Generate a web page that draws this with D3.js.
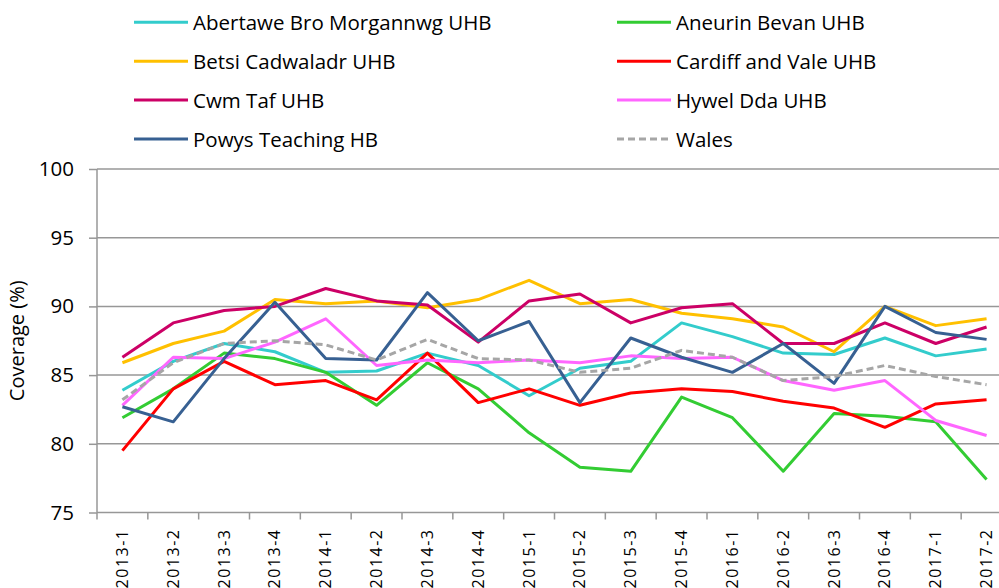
<!DOCTYPE html>
<html>
<head>
<meta charset="utf-8">
<script src="https://cdn.jsdelivr.net/npm/d3@7"></script>
<style>
  body { margin: 0; background: #fff; }
  svg { display: block; }
  text { font-family: "Open Sans", "Liberation Sans", Arial, sans-serif; }
</style>
</head>
<body>
<svg id="chart" width="999" height="588"></svg>
<script>
const categories = ['2013-1','2013-2','2013-3','2013-4','2014-1','2014-2','2014-3','2014-4',
  '2015-1','2015-2','2015-3','2015-4','2016-1','2016-2','2016-3','2016-4','2017-1','2017-2'];

const abertawe = [83.9, 86.0, 87.3, 86.7, 85.2, 85.3, 86.6, 85.7, 83.5, 85.5, 86.0, 88.8, 87.8, 86.6, 86.5, 87.7, 86.4, 86.9];
const aneurin  = [81.9, 84.0, 86.6, 86.2, 85.2, 82.8, 85.9, 84.0, 80.8, 78.3, 78.0, 83.4, 81.9, 78.0, 82.2, 82.0, 81.6, 77.4];
const betsi    = [85.9, 87.3, 88.2, 90.5, 90.2, 90.4, 89.9, 90.5, 91.9, 90.2, 90.5, 89.5, 89.1, 88.5, 86.7, 90.0, 88.6, 89.1];
const cardiff  = [79.5, 84.0, 86.0, 84.3, 84.6, 83.2, 86.6, 83.0, 84.0, 82.8, 83.7, 84.0, 83.8, 83.1, 82.6, 81.2, 82.9, 83.2];
const cwmTaf   = [86.3, 88.8, 89.7, 90.0, 91.3, 90.4, 90.1, 87.4, 90.4, 90.9, 88.8, 89.9, 90.2, 87.3, 87.3, 88.8, 87.3, 88.5];
const hywelDda = [82.8, 86.3, 86.2, 87.4, 89.1, 85.7, 86.1, 85.9, 86.1, 85.9, 86.4, 86.2, 86.3, 84.6, 83.9, 84.6, 81.7, 80.6];
const powys    = [82.7, 81.6, 86.2, 90.3, 86.2, 86.1, 91.0, 87.5, 88.9, 83.0, 87.7, 86.3, 85.2, 87.3, 84.4, 90.0, 88.1, 87.6];
const wales    = [83.2, 85.9, 87.3, 87.5, 87.2, 86.1, 87.6, 86.2, 86.1, 85.2, 85.5, 86.8, 86.3, 84.6, 84.9, 85.7, 84.9, 84.3];

const yTicks = [75, 80, 85, 90, 95, 100];

const series = [
  { name: 'Abertawe Bro Morgannwg UHB', values: abertawe, color: '#33CCCC' },
  { name: 'Aneurin Bevan UHB', values: aneurin, color: '#33CC33' },
  { name: 'Betsi Cadwaladr UHB', values: betsi, color: '#FFC000' },
  { name: 'Cardiff and Vale UHB', values: cardiff, color: '#FF0000' },
  { name: 'Cwm Taf UHB', values: cwmTaf, color: '#CC0066' },
  { name: 'Hywel Dda UHB', values: hywelDda, color: '#FF66FF' },
  { name: 'Powys Teaching HB', values: powys, color: '#376092' },
  { name: 'Wales', values: wales, color: '#A6A6A6', dash: '7,4' }
];

const margin = { top: 169, left: 97 };
const width = 915;
const height = 343.5;

const svg = d3.select('#chart');
const g = svg.append('g').attr('transform', `translate(${margin.left}, ${margin.top})`);

const xScale = d3.scaleBand().domain(categories).range([0, width]);
const yScale = d3.scaleLinear().domain([75, 100]).range([height, 0]);

// gridlines
g.selectAll('.grid')
  .data(yTicks.slice(1))
  .enter()
  .append('line')
  .attr('x1', 0).attr('x2', width)
  .attr('y1', d => yScale(d)).attr('y2', d => yScale(d))
  .attr('stroke', '#979797').attr('stroke-width', 1.5);

// y axis
const yAxis = d3.axisLeft(yScale).tickValues(yTicks).tickSize(8).tickPadding(15);
const yg = g.append('g').call(yAxis);
yg.select('.domain').attr('stroke', '#979797').attr('stroke-width', 1.5).attr('d', `M0,${height}V0`);
yg.selectAll('.tick line').attr('stroke', '#979797').attr('stroke-width', 1.5);
yg.selectAll('.tick text').attr('font-size', 20.5).attr('fill', '#000')
  .attr('font-family', '"Open Sans", sans-serif');

// x axis
const xg = g.append('g').attr('transform', `translate(0, ${height})`);
xg.append('line').attr('x1', 0).attr('x2', width)
  .attr('stroke', '#979797').attr('stroke-width', 1.5);
xg.selectAll('.xt')
  .data(categories)
  .enter()
  .append('line')
  .attr('x1', d => xScale(d)).attr('x2', d => xScale(d))
  .attr('y1', 0).attr('y2', 7)
  .attr('stroke', '#979797').attr('stroke-width', 1.5);
xg.selectAll('.xl')
  .data(categories)
  .enter()
  .append('text')
  .attr('transform', d => `translate(${xScale(d) + xScale.bandwidth() / 2 + 5.5}, 16) rotate(-90)`)
  .attr('text-anchor', 'end')
  .attr('font-family', '"Liberation Sans", Arial, sans-serif')
  .attr('font-size', 16)
  .attr('letter-spacing', 1.5)
  .attr('fill', '#000')
  .text(d => d);

// y title
svg.append('text')
  .attr('transform', `translate(24, ${margin.top + height / 2}) rotate(-90)`)
  .attr('text-anchor', 'middle')
  .attr('font-size', 20)
  .text('Coverage (%)');

// lines
const line = d3.line()
  .x((d, i) => xScale(categories[i]) + xScale.bandwidth() / 2)
  .y(d => yScale(d));

g.selectAll('.series')
  .data(series)
  .enter()
  .append('path')
  .attr('d', d => line(d.values))
  .attr('fill', 'none')
  .attr('stroke', d => d.color)
  .attr('stroke-width', 3)
  .attr('stroke-dasharray', d => d.dash || null)
  .attr('stroke-linejoin', 'round');

// legend
const legend = svg.append('g');
const items = legend.selectAll('g')
  .data(series)
  .enter()
  .append('g')
  .attr('transform', (d, i) => `translate(${i % 2 === 0 ? 134 : 617}, ${22.3 + Math.floor(i / 2) * 38.9})`);
items.append('line')
  .attr('x1', 0).attr('x2', 54)
  .attr('stroke', d => d.color)
  .attr('stroke-width', 3)
  .attr('stroke-dasharray', d => d.dash || null);
items.append('text')
  .attr('x', 59).attr('y', 7.5)
  .attr('font-size', 20.5)
  .text(d => d.name);
</script>
</body>
</html>
